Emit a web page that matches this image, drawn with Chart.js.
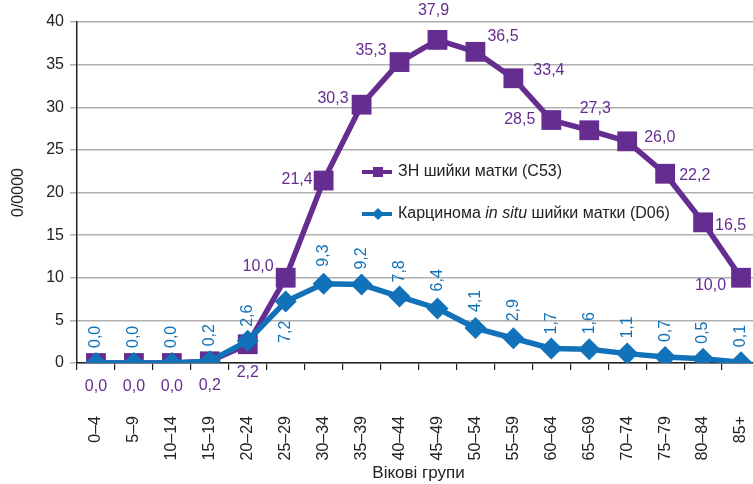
<!DOCTYPE html>
<html>
<head>
<meta charset="utf-8">
<script src="https://cdn.jsdelivr.net/npm/chart.js@4.4.1/dist/chart.umd.min.js"></script>
<style>
    html, body { margin: 0; padding: 0; background: #fff; overflow: hidden; }
    #wrap { width: 774px; height: 484px; }
</style>
</head>
<body>
<div id="wrap"><canvas id="chart"></canvas></div>
<script>
// Дані
const AGE_GROUPS = ['0–4', '5–9', '10–14', '15–19', '20–24', '25–29', '30–34', '35–39', '40–44',
    '45–49', '50–54', '55–59', '60–64', '65–69', '70–74', '75–79', '80–84', '85+'];
const C53_VALUES = [0.0, 0.0, 0.0, 0.2, 2.2, 10.0, 21.4, 30.3, 35.3, 37.9, 36.5, 33.4, 28.5, 27.3, 26.0, 22.2, 16.5, 10.0];
const D06_VALUES = [0.0, 0.0, 0.0, 0.2, 2.6, 7.2, 9.3, 9.2, 7.8, 6.4, 4.1, 2.9, 1.7, 1.6, 1.1, 0.7, 0.5, 0.1];
const C53_NAME = 'ЗН шийки матки (C53)';
const D06_NAME = ['Карцинома ', 'in situ', ' шийки матки (D06)'];

const PURPLE = '#662d91';
const BLUE = '#1172b9';
const FONT = '"Liberation Sans", Arial, sans-serif';

// розміщення підписів: [вирівнювання, dx, dy]
const C53_LABEL_POS = [
    ['center', 0, 24], ['center', 0, 24], ['center', 0, 24], ['center', 0, 24], ['center', 0, 28],
    ['right', -12, -11], ['right', -11, -1], ['right', -13, -6], ['right', -13, -11], ['center', -4, -29],
    ['left', 12, -15], ['left', 20, -8], ['right', -16, 0], ['center', 6, -22], ['left', 17, -4],
    ['left', 14, 2], ['left', 12, 3], ['right', -15, 8]
];
// відступ вертикальних підписів (додатний - над точкою)
const D06_LABEL_GAP = [15, 15, 15, 15, 14, -19, 17, 15, 14, 17, 16, 17, 14, 15, 15, 15, 15, 15];

function fmt(v) {
    return v.toFixed(1).replace('.', ',');
}

const pointLabels = {
    id: 'pointLabels',
    afterDatasetsDraw(chart) {
        const ctx = chart.ctx;
        ctx.save();
        ctx.font = '16px ' + FONT;
        ctx.textBaseline = 'middle';
        ctx.fillStyle = PURPLE;
        chart.getDatasetMeta(0).data.forEach(function (pt, i) {
            const p = C53_LABEL_POS[i];
            ctx.textAlign = p[0];
            ctx.fillText(fmt(C53_VALUES[i]), pt.x + p[1], pt.y + p[2]);
        });
        ctx.fillStyle = BLUE;
        chart.getDatasetMeta(1).data.forEach(function (pt, i) {
            const gap = D06_LABEL_GAP[i];
            ctx.save();
            ctx.translate(pt.x, pt.y);
            ctx.rotate(-Math.PI / 2);
            ctx.textAlign = gap > 0 ? 'left' : 'right';
            ctx.fillText(fmt(D06_VALUES[i]), gap, 0);
            ctx.restore();
        });
        ctx.restore();
    }
};

const innerLegend = {
    id: 'innerLegend',
    afterDraw(chart) {
        const ctx = chart.ctx;
        ctx.save();
        ctx.textBaseline = 'middle';
        ctx.textAlign = 'left';
        ctx.lineWidth = 4;

        // ЗН
        let y = 172;
        ctx.strokeStyle = PURPLE;
        ctx.beginPath(); ctx.moveTo(362, y); ctx.lineTo(392, y); ctx.stroke();
        ctx.fillStyle = PURPLE;
        ctx.fillRect(373, y - 5, 10, 10);
        ctx.fillStyle = '#222';
        ctx.font = '16px ' + FONT;
        ctx.fillText(C53_NAME, 398, y);

        // Карцинома in situ
        y = 214;
        ctx.strokeStyle = BLUE;
        ctx.beginPath(); ctx.moveTo(362, y); ctx.lineTo(392, y); ctx.stroke();
        ctx.fillStyle = BLUE;
        ctx.beginPath();
        ctx.moveTo(378, y - 6); ctx.lineTo(384, y); ctx.lineTo(378, y + 6); ctx.lineTo(372, y);
        ctx.closePath(); ctx.fill();
        ctx.fillStyle = '#222';
        let x = 398;
        D06_NAME.forEach(function (part, i) {
            ctx.font = (i === 1 ? 'italic ' : '') + '16px ' + FONT;
            ctx.fillText(part, x, y);
            x += ctx.measureText(part).width;
        });
        ctx.restore();
    }
};

new Chart(document.getElementById('chart'), {
    type: 'line',
    data: {
        labels: AGE_GROUPS,
        datasets: [{
            label: C53_NAME,
            data: C53_VALUES,
            borderColor: PURPLE,
            backgroundColor: PURPLE,
            borderWidth: 5.5,
            pointStyle: 'rect',
            pointRadius: 14,
            pointBorderWidth: 0,
            order: 1,
        }, {
            label: D06_NAME.join(''),
            data: D06_VALUES,
            borderColor: BLUE,
            backgroundColor: BLUE,
            borderWidth: 5.5,
            pointStyle: 'rectRot',
            pointRadius: 11,
            pointBorderWidth: 0,
            order: 0,
        }],
    },
    options: {
        responsive: true,
        maintainAspectRatio: false,
        animation: false,
        layout: { padding: { top: 22, right: 0, left: 0, bottom: 0 } },
        plugins: {
            legend: { display: false },
            tooltip: { enabled: false },
        },
        scales: {
            x: {
                offset: true,
                grid: { display: true, drawOnChartArea: false, offset: true, tickLength: 7, color: '#222', lineWidth: 1.2 },
                border: { color: '#222', width: 1.5 },
                ticks: { color: '#222', font: { family: FONT, size: 16 }, minRotation: 90, maxRotation: 90, padding: 46, autoSkip: false },
                title: { display: true, text: 'Вікові групи', color: '#222', font: { family: FONT, size: 17 }, padding: { top: 0, bottom: 0 } },
                afterFit: function (s) {
                    s.height = 121;
                    s.paddingLeft = 0;
                    s.paddingRight = 0;
                },
            },
            y: {
                min: 0,
                max: 40,
                ticks: { stepSize: 5, color: '#222', font: { family: FONT, size: 16 }, padding: 6 },
                grid: { color: '#b0b0b0', lineWidth: 1.5, tickLength: 7 },
                border: { color: '#222', width: 1.5 },
                title: { display: true, text: '0/0000', color: '#222', font: { family: FONT, size: 16 }, padding: { top: 9, bottom: 4 } },
                afterFit: function (s) { s.width = 77; },
            },
        },
    },
    plugins: [pointLabels, innerLegend],
});
</script>
</body>
</html>
